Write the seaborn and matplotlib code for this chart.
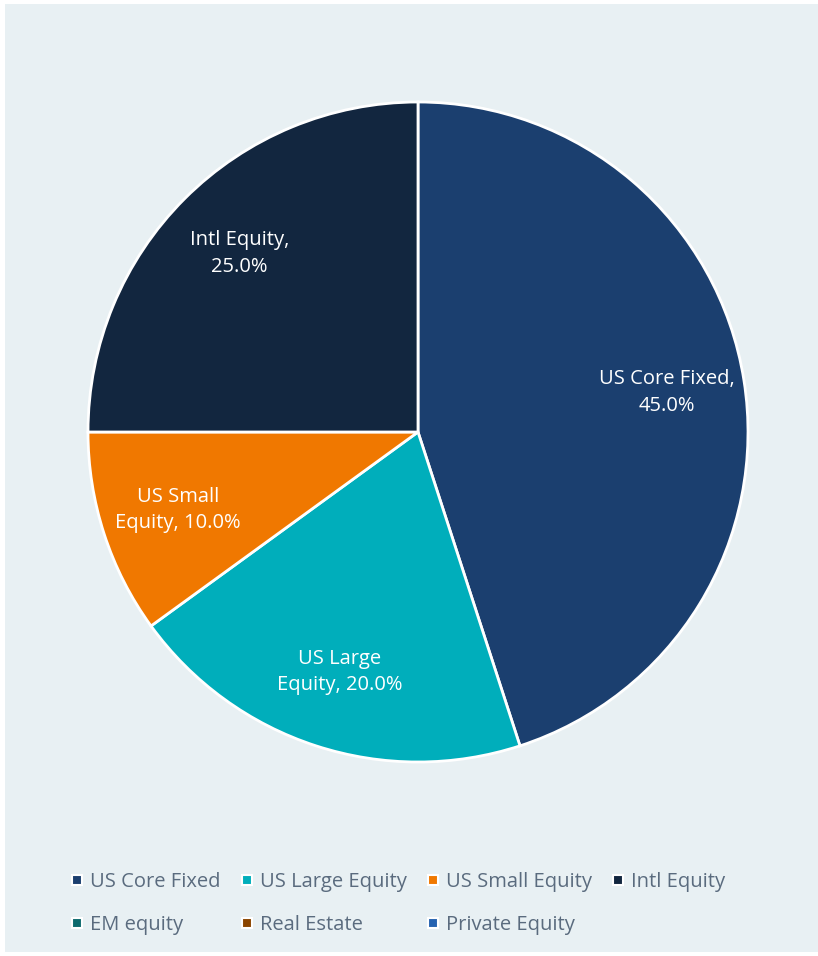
import matplotlib
matplotlib.use("Agg")
import matplotlib.pyplot as plt
import seaborn as sns
from matplotlib.patches import Rectangle
from matplotlib.lines import Line2D

sns.set_theme(style="white")
plt.rcParams['font.family'] = ['Open Sans', 'DejaVu Sans']

categories = ["US Core Fixed", "US Large Equity", "US Small Equity", "Intl Equity",
              "EM equity", "Real Estate", "Private Equity"]
values = [45.0, 20.0, 10.0, 25.0, 0.0, 0.0, 0.0]
label_names = ["US Core Fixed,\n45.0%", "US Large\nEquity, 20.0%",
               "US Small\nEquity, 10.0%", "Intl Equity,\n25.0%"]
colors = ["#1B3F6F", "#00AEBB", "#F07800", "#12263F", "#0E6B6E", "#8B4500", "#2563B0"]

W, H = 818, 956
fig = plt.figure(figsize=(W / 100, H / 100), dpi=100, facecolor="white")
fig.patches.append(Rectangle((5 / W, 4 / H), (W - 5) / W, (952 - 4) / H,
                             transform=fig.transFigure, facecolor="#E8F0F3",
                             edgecolor="none", zorder=-10))

cx, cy, r = 418, 432, 330
ax = fig.add_axes([(cx - r) / W, 1 - (cy + r) / H, 2 * r / W, 2 * r / H])
ax.set_facecolor("none")
ax.set_zorder(5)

pie_vals = [v for v in values if v > 0]
pie_cols = [c for c, v in zip(colors, values) if v > 0]
wedges, texts = ax.pie(pie_vals, colors=pie_cols, startangle=90, counterclock=False,
                       labels=label_names, labeldistance=0.765,
                       wedgeprops=dict(edgecolor="white", linewidth=2.0),
                       textprops=dict(color="white", fontsize=14.5, ha="center",
                                      va="center", linespacing=1.45))
ax.set_aspect("equal")
ax.set_xlim(-1, 1)
ax.set_ylim(-1, 1)
ax.axis("off")

handles = [Line2D([0], [0], marker="s", linestyle="none", markersize=7,
                  markerfacecolor=c, markeredgecolor="white", markeredgewidth=1.5)
           for c in colors]
order = [0, 4, 1, 5, 2, 6, 3]
leg = fig.legend([handles[i] for i in order], [categories[i] for i in order],
                 loc="upper left", ncol=4,
                 bbox_to_anchor=(52 / W, 1 - 854 / H), frameon=False,
                 fontsize=14.5, labelcolor="#5A6B7E", handlelength=0.7,
                 handletextpad=0.3, columnspacing=0.95, labelspacing=1.15)

fig.savefig("out.png", dpi=100, facecolor="white")
